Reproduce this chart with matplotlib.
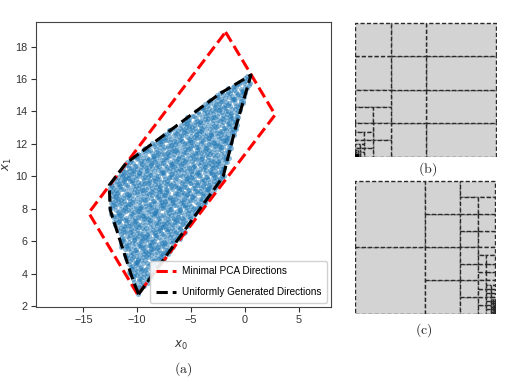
import numpy as np
import matplotlib
matplotlib.use("Agg")
import matplotlib.pyplot as plt
from matplotlib.patches import Rectangle
from matplotlib.path import Path

plt.rcParams["font.family"] = ["Liberation Sans", "DejaVu Sans"]
plt.rcParams["mathtext.fontset"] = "dejavusans"

# panel (a): bounding boxes around the sample cloud
pca_box_x = [-1.8, 2.8, -9.95, -14.5, -1.8]
pca_box_y = [18.9, 13.8, 2.7, 7.75, 18.9]

hull_x = [-9.87, -10.4, -12.5, -12.6, -11.06, -2.34, 0.56,
          -0.93, -2.03, -9.87]
hull_y = [2.73, 3.6, 7.9, 9.45, 10.8, 15.1, 16.25,
          12.86, 9.98, 2.73]

x_ticks = [-15, -10, -5, 0, 5]
y_ticks = [2, 4, 6, 8, 10, 12, 14, 16, 18]
n_candidates = 2900

# panels (b) and (c): partition cells (x, y, width, height) on the unit square
b_cells_top = [
    (0.5, 0.0, 0.5, 0.25), (0.5, 0.25, 0.5, 0.25),
    (0.5, 0.5, 0.5, 0.25), (0.5, 0.75, 0.5, 0.25),
    (0.25, 0.0, 0.25, 0.25), (0.25, 0.25, 0.25, 0.25),
    (0.25, 0.5, 0.25, 0.25), (0.25, 0.75, 0.25, 0.25),
    (0.0, 0.5, 0.25, 0.25), (0.0, 0.75, 0.25, 0.25),
]
b_levels = [0.25, 0.125, 0.0625, 0.03125, 0.015625]

c_cells_top = [(0.0, 0.0, 0.5, 0.5), (0.0, 0.5, 0.5, 0.5)]
c_levels = [0.5, 0.25, 0.125, 0.0625, 0.03125, 0.015625, 0.0078125]


def hull_samples(n):
    # deterministic low-discrepancy fill of the hull (Halton 2, 3)
    def halton(i, base):
        f, r = 1.0, 0.0
        while i > 0:
            f /= base
            r += f * (i % base)
            i //= base
        return r
    u = np.array([halton(i, 2) for i in range(1, n + 1)])
    v = np.array([halton(i, 3) for i in range(1, n + 1)])
    px = min(hull_x) + u * (max(hull_x) - min(hull_x))
    py = min(hull_y) + v * (max(hull_y) - min(hull_y))
    inside = Path(np.column_stack([hull_x, hull_y])).contains_points(
        np.column_stack([px, py]), radius=-0.15)
    return px[inside], py[inside]


def b_cells():
    cells = list(b_cells_top)
    for w in b_levels:
        h = w / 2
        cells += [(0, 1.5 * w, w, h), (0, w, h, h), (h, w, h, h),
                  (h, h, h, h), (h, 0, h, h)]
    return cells


def c_cells():
    cells = list(c_cells_top)
    for w in c_levels:
        h, q = w / 2, w / 4
        cells += [(1 - w, k * h, h, h) for k in range(4)]
        cells.append((1 - h, 2 * w - q, h, q))
        cells += [(1 - h + c * q, w + r * q, q, q)
                  for r in range(3) for c in range(2)]
    return cells


def draw_cells(ax, cells):
    for x, y, w, h in cells:
        ax.add_patch(Rectangle((x, y), w, h, facecolor="#d3d3d3",
                               edgecolor="#2a2a2a", linewidth=1.0,
                               linestyle=(0, (3, 1.6))))
    ax.set_xlim(-0.005, 1.005)
    ax.set_ylim(-0.005, 1.005)
    ax.axis("off")


fig = plt.figure(figsize=(5.29, 3.80), dpi=100)

ax = fig.add_axes([0.068, 0.192, 0.558, 0.751])
sx, sy = hull_samples(n_candidates)
ax.scatter(sx, sy, s=13, color="#1f77b4", alpha=0.5, linewidths=0)
ax.plot(pca_box_x, pca_box_y, "--", color="red", linewidth=2.2,
        label="Minimal PCA Directions")
ax.plot(hull_x, hull_y, "--", color="black", linewidth=2.2,
        label="Uniformly Generated Directions")
ax.set_xlim(-19.4, 8.0)
ax.set_ylim(1.94, 19.54)
ax.set_xticks(x_ticks)
ax.set_yticks(y_ticks)
ax.tick_params(labelsize=7.8, colors="#333333", length=3.5, width=0.8,
               pad=2.5)
for sp in ax.spines.values():
    sp.set_color("#444444")
ax.set_xlabel("$x_0$", fontsize=8.5, color="#333333")
ax.set_ylabel("$x_1$", fontsize=8.5, color="#333333")
ax.xaxis.set_label_coords(0.49, -0.11)
ax.yaxis.set_label_coords(-0.075, 0.5)
ax.legend(loc="lower right", fontsize=7.2, handlelength=2.0,
          handletextpad=0.6, labelspacing=1.1, borderpad=0.55,
          borderaxespad=0.45, framealpha=0.9, edgecolor="#cccccc")

axb = fig.add_axes([0.6705, 0.586, 0.269, 0.355])
draw_cells(axb, b_cells())
axb.add_patch(Rectangle((0, 0), 0.018, 0.018, color="black"))

axc = fig.add_axes([0.6705, 0.173, 0.267, 0.353])
draw_cells(axc, c_cells())

fig.text(0.346, 0.029, r"$\mathrm{(a)}$", math_fontfamily="cm",
         fontsize=10, ha="center", va="center", color="#222222")
fig.text(0.809, 0.555, r"$\mathrm{(b)}$", math_fontfamily="cm",
         fontsize=10, ha="center", va="center", color="#222222")
fig.text(0.801, 0.132, r"$\mathrm{(c)}$", math_fontfamily="cm",
         fontsize=10, ha="center", va="center", color="#222222")

fig.savefig("out.png", dpi=100)
